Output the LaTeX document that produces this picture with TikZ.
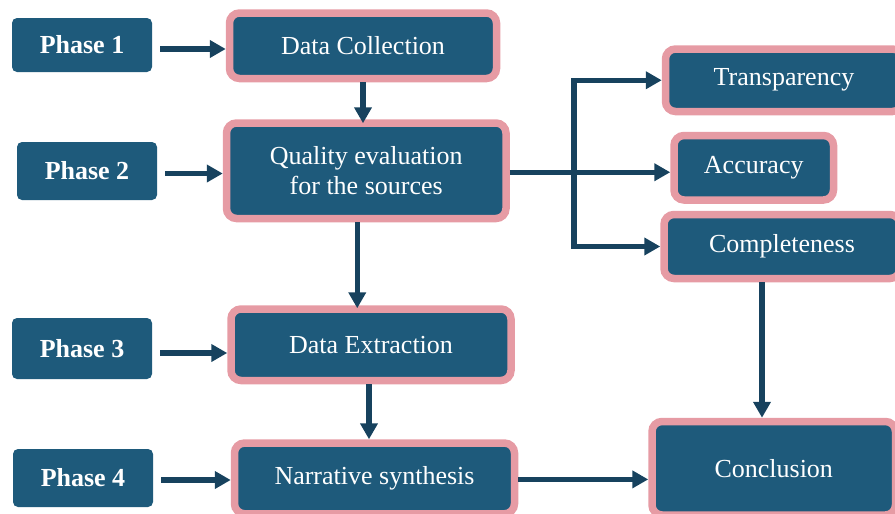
\documentclass[tikz,border=0pt]{standalone}
\usepackage{fontspec}
\setmainfont{Liberation Serif}
\usetikzlibrary{arrows.meta}
\definecolor{boxblue}{HTML}{1E5A7B}
\definecolor{pinkb}{HTML}{E69BA4}
\definecolor{arrowc}{HTML}{17425E}
\tikzset{
  phasebox/.style={fill=boxblue, draw=none, rounded corners=5pt, text=white,
    font=\fontsize{26}{30}\selectfont\bfseries, align=center, inner sep=0pt},
  stagebox/.style={fill=boxblue, draw=pinkb, line width=7.5pt, rounded corners=10pt,
    text=white, font=\fontsize{26}{30}\selectfont, align=center, inner sep=0pt},
  arr/.style={draw=arrowc, line width=5.5pt, -{Triangle[length=16pt,width=17pt]}},
  barr/.style={draw=arrowc, line width=5.5pt, line join=miter,
    {Triangle[length=16pt,width=17pt]}-{Triangle[length=16pt,width=17pt]}}
}
\begin{document}
\begin{tikzpicture}[x=1pt,y=-1pt]
\useasboundingbox (0,0) rectangle (895,514);
% phase boxes
\node[phasebox, minimum width=140pt, minimum height=54pt] (p1) at (82,45) {Phase 1};
\node[phasebox, minimum width=140pt, minimum height=58pt] (p2) at (87,171) {Phase 2};
\node[phasebox, minimum width=140pt, minimum height=61pt] (p3) at (82,348.5) {Phase 3};
\node[phasebox, minimum width=140pt, minimum height=58pt] (p4) at (83,478) {Phase 4};
% stage boxes
\node[stagebox, minimum width=267pt, minimum height=65.5pt] (dc) at (363,45.75) {Data Collection};
\node[stagebox, minimum width=279.5pt, minimum height=95.5pt] (qe) at (366.25,170.75) {Quality evaluation\\for the sources};
\node[stagebox, minimum width=280pt, minimum height=71.5pt] (de) at (371,344.75) {Data Extraction};
\node[stagebox, minimum width=280pt, minimum height=70.75pt] (ns) at (374.5,478.4) {Narrative synthesis};
\node[stagebox, minimum width=237pt, minimum height=62.5pt] (tr) at (784,80.25) {Transparency};
\node[stagebox, minimum width=159.5pt, minimum height=64.5pt] (ac) at (753.75,167.75) {Accuracy};
\node[stagebox, minimum width=236pt, minimum height=64pt] (co) at (782,246.5) {Completeness};
\node[stagebox, minimum width=243.5pt, minimum height=93.5pt] (cn) at (773.75,468.25) {Conclusion};
\coordinate (bx) at (574,0);
% connectors
\draw[arr] ([xshift=8pt,yshift=-4pt]p1.east) -- ([yshift=-4pt]p1.east -| dc.west);
\draw[arr] (dc.south) -- ([yshift=-4pt]dc.south |- qe.north);
\draw[arr] ([xshift=8pt,yshift=-2.5pt]p2.east) -- ([yshift=-2.5pt]p2.east -| qe.west);
\draw[arr] ([xshift=-9pt]qe.south) -- ([yshift=-3pt,xshift=-9pt]qe.south |- de.north);
\draw[arr] ([xshift=8pt,yshift=-4.5pt]p3.east) -- ([yshift=-4.5pt]p3.east -| de.west);
\draw[arr] ([xshift=-2pt]de.south) -- ([xshift=-2pt]de.south |- ns.north);
\draw[arr] ([xshift=8pt,yshift=-2pt]p4.east) -- ([yshift=-2pt]p4.east -| ns.west);
\draw[arr] ([yshift=-1pt]ns.east) -- ([yshift=-1pt]ns.east -| cn.west);
\draw[arr] ([xshift=-20pt]co.south) -- ([xshift=-20pt]co.south |- cn.north);
\draw[arr] ([yshift=-1.5pt]qe.east) -- ([yshift=-1.5pt]qe.east -| ac.west);
\draw[barr] (tr.west) -- (bx |- tr.west) -- (bx |- co.west) -- (co.west);
\end{tikzpicture}
\end{document}
